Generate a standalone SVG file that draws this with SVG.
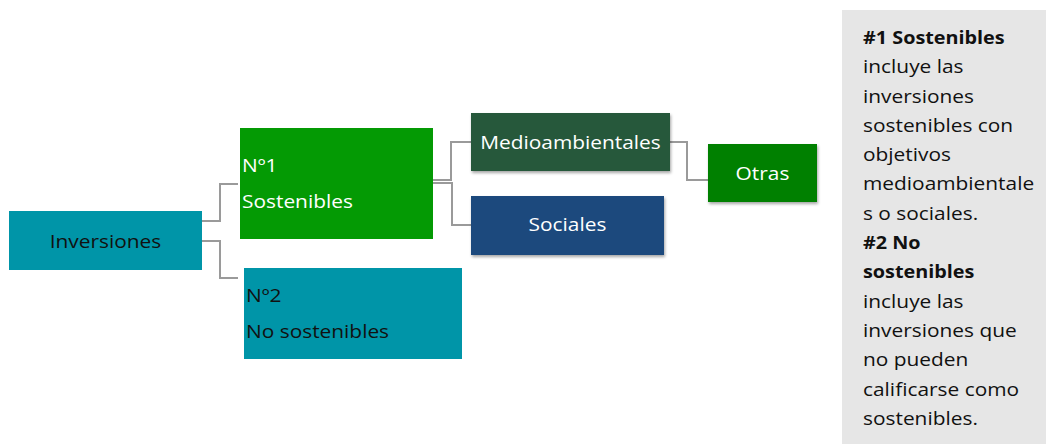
<svg xmlns="http://www.w3.org/2000/svg" width="1046" height="444" viewBox="0 0 1046 444">
<defs>
<style>
.t{font-family:"Open Sans",Lato,"Liberation Sans",sans-serif;font-size:18px}
.w{fill:#ffffff}
.k{fill:#111111}
.c{text-anchor:middle}
.b{font-weight:bold}
.conn{fill:none;stroke:#9a9a9a;stroke-width:2}
</style>
<filter id="sh" x="-10%" y="-10%" width="120%" height="130%">
<feDropShadow dx="1" dy="2" stdDeviation="1.5" flood-color="#000" flood-opacity="0.35"/>
</filter>
</defs>
<rect width="1046" height="444" fill="#ffffff"/>
<g id="connectors">
<path class="conn" d="M202 221 H220 V184 H238"/>
<path class="conn" d="M202 241 H220 V278 H238"/>
<path class="conn" d="M433 180 H451 V142 H471"/>
<path class="conn" d="M433 183 H452 V225 H471"/>
<path class="conn" d="M670 142 H687 V180 H708"/>
</g>
<g id="inversiones">
<rect x="9" y="211" width="193" height="59" fill="#0095A8"/>
<text class="t k c" transform="translate(105.5,0) scale(1.16,1)" x="0" y="248">Inversiones</text>
</g>
<g id="sostenibles">
<rect x="240" y="128" width="193" height="111" fill="#049A04"/>
<text class="t w" transform="translate(242,0) scale(1.16,1)" x="0" y="172">Nº1</text>
<text class="t w" transform="translate(242,0) scale(1.16,1)" x="0" y="208">Sostenibles</text>
</g>
<g id="no-sostenibles">
<rect x="244" y="268" width="218" height="91" fill="#0095A8"/>
<text class="t k" transform="translate(246,0) scale(1.16,1)" x="0" y="302">Nº2</text>
<text class="t k" transform="translate(246,0) scale(1.16,1)" x="0" y="338">No sostenibles</text>
</g>
<g id="medioambientales">
<rect x="471" y="113" width="199" height="58" fill="#28583A" filter="url(#sh)"/>
<text class="t w c" transform="translate(570.5,0) scale(1.16,1)" x="0" y="149">Medioambientales</text>
</g>
<g id="sociales">
<rect x="471" y="196" width="193" height="59" fill="#1F497D" filter="url(#sh)"/>
<text class="t w c" transform="translate(567.5,0) scale(1.16,1)" x="0" y="231.5">Sociales</text>
</g>
<g id="otras">
<rect x="708" y="144" width="109" height="58" fill="#008000" filter="url(#sh)"/>
<text class="t w c" transform="translate(762.5,0) scale(1.16,1)" x="0" y="180">Otras</text>
</g>
<g id="nota">
<rect x="842" y="10" width="204" height="434" fill="#E6E6E6"/>
<text class="t k b" transform="translate(863,0) scale(1.1,1)">
<tspan x="0" y="44">#1 Sostenibles</tspan>
<tspan x="0" y="249.1">#2 No</tspan>
<tspan x="0" y="278.4">sostenibles</tspan>
</text>
<text class="t k" transform="translate(863,0) scale(1.16,1)">
<tspan x="0" y="73.3">incluye las</tspan>
<tspan x="0" y="102.6">inversiones</tspan>
<tspan x="0" y="131.9">sostenibles con</tspan>
<tspan x="0" y="161.2">objetivos</tspan>
<tspan x="0" y="190.5">medioambientale</tspan>
<tspan x="0" y="219.8">s o sociales.</tspan>
<tspan x="0" y="307.7">incluye las</tspan>
<tspan x="0" y="337">inversiones que</tspan>
<tspan x="0" y="366.3">no pueden</tspan>
<tspan x="0" y="395.6">calificarse como</tspan>
<tspan x="0" y="424.9">sostenibles.</tspan>
</text>
</g>
</svg>
